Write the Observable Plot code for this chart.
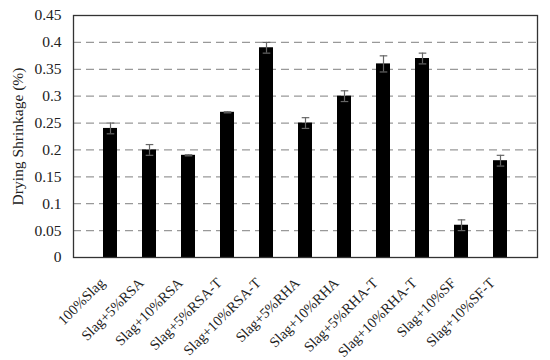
<!DOCTYPE html>
<html><head><meta charset="utf-8">
<script src="https://cdn.jsdelivr.net/npm/d3@7"></script>
<script src="https://cdn.jsdelivr.net/npm/@observablehq/plot@0.6"></script>
<style>body{margin:0;background:#fff;}</style>
</head><body><div id="chart"></div>
<script>
const categories = ["100%Slag","Slag+5%RSA","Slag+10%RSA","Slag+5%RSA-T","Slag+10%RSA-T","Slag+5%RHA","Slag+10%RHA","Slag+5%RHA-T","Slag+10%RHA-T","Slag+10%SF","Slag+10%SF-T"];
const shrinkage = [0.24,0.20,0.19,0.27,0.39,0.25,0.30,0.36,0.37,0.06,0.18];
const errors = [0.01,0.01,0.001,0.001,0.01,0.01,0.01,0.015,0.01,0.01,0.01];
const yTicks = [0,0.05,0.1,0.15,0.2,0.25,0.3,0.35,0.4,0.45];
const gridTicks = [0.05,0.1,0.15,0.2,0.25,0.3,0.35,0.4];

const data = categories.map((c,i)=>({cat:c, v:shrinkage[i], lo:shrinkage[i]-errors[i], hi:shrinkage[i]+errors[i]}));

const capSymbol = {
  draw(context, size) {
    const r = Math.sqrt(size / Math.PI);
    context.moveTo(-r, 0);
    context.lineTo(r, 0);
  }
};

const chart = Plot.plot({
  width: 550, height: 360,
  marginLeft: 73, marginRight: 13, marginTop: 15, marginBottom: 103,
  style: {fontFamily: "Liberation Serif, serif", fontSize: "15.5px", color: "#222", background: "#fff"},
  x: {domain: categories, padding: 0.65, label: null},
  y: {domain: [0,0.45], ticks: yTicks, tickFormat: d => String(d), tickSize: 0, tickPadding: 12, label: "Drying Shrinkage (%)", labelAnchor: "center", labelArrow: false, labelOffset: 62},
  marks: [
    Plot.axisX({tickRotate: -45, tickSize: 0, tickPadding: 18, dx: -8, dy: 5, fontSize: 14.5, label: null}),
    Plot.ruleY(gridTicks, {stroke: "#999", strokeDasharray: "8,5", strokeWidth: 1.2}),
    Plot.barY(data, {x: "cat", y: "v", fill: "#000"}),
    Plot.ruleX(data, {x: "cat", y1: "lo", y2: "hi", stroke: "#666", strokeWidth: 1.2}),
    Plot.dot(data, {x: "cat", y: "hi", symbol: capSymbol, r: 3.8, fill: "none", stroke: "#666", strokeWidth: 1.2}),
    Plot.dot(data, {x: "cat", y: "lo", symbol: capSymbol, r: 3.8, fill: "none", stroke: "#666", strokeWidth: 1.2}),
    Plot.frame({stroke: "#333", strokeWidth: 1.3})
  ]
});
document.getElementById("chart").append(chart);
</script></body></html>
